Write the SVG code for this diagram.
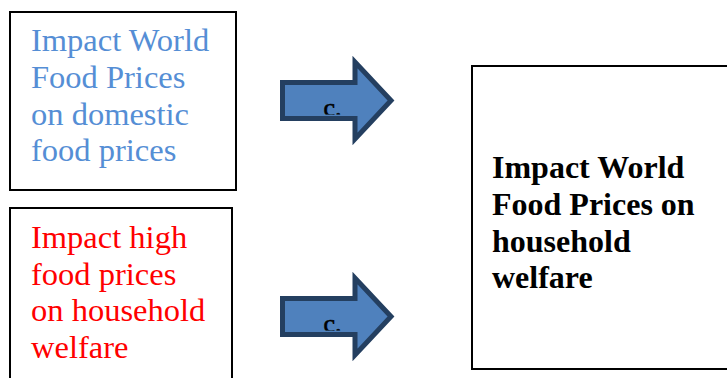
<svg xmlns="http://www.w3.org/2000/svg" width="727" height="378" viewBox="0 0 727 378">
<style>
.box{fill:#fff;stroke:#000;stroke-width:2}
.t{font-family:"Liberation Serif","Times New Roman",serif;font-size:32.5px}
.blue{fill:#558ed5}
.red{fill:#ff0000}
.bold{font-weight:bold;fill:#000;font-size:32px}
.arrow{fill:#4f81bd;stroke:#243f60;stroke-width:5;stroke-linejoin:miter}
.c{font-family:"Liberation Serif","Times New Roman",serif;font-size:26px;fill:#000;stroke:#000;stroke-width:0.6}
</style>
<defs>
<clipPath id="clip1"><rect x="284" y="85" width="80" height="29.5"/></clipPath>
<clipPath id="clip2"><rect x="284" y="301" width="80" height="29.5"/></clipPath>
</defs>
<rect width="727" height="378" fill="#fff"/>
<g id="node1">
<rect class="box" x="10" y="12" width="226" height="178"/>
<text class="t blue" x="31"><tspan x="31" y="51">Impact World</tspan><tspan x="31" y="88">Food Prices</tspan><tspan x="31" y="124.5">on domestic</tspan><tspan x="31" y="161">food prices</tspan></text>
</g>
<g id="node2">
<rect class="box" x="10" y="208" width="222" height="190"/>
<text class="t red" x="31"><tspan x="31" y="248">Impact high</tspan><tspan x="31" y="284.5">food prices</tspan><tspan x="31" y="321">on household</tspan><tspan x="31" y="358">welfare</tspan></text>
</g>
<g id="node3">
<rect class="box" x="472" y="66" width="264" height="303"/>
<text class="t bold" x="492"><tspan x="492" y="178">Impact World</tspan><tspan x="492" y="215">Food Prices on</tspan><tspan x="492" y="252">household</tspan><tspan x="492" y="288">welfare</tspan></text>
</g>
<g id="connectors">
<g id="arrow1">
<path class="arrow" d="M282.5,82.5 L355,82.5 L355,62 L391,100.5 L355,139 L355,118.5 L282.5,118.5 Z"/>
<text class="c" x="323.5" y="115.5" clip-path="url(#clip1)">c.</text>
</g>
<g id="arrow2">
<path class="arrow" d="M282.5,298.5 L355,298.5 L355,278 L391,316.5 L355,355 L355,334.5 L282.5,334.5 Z"/>
<text class="c" x="323.5" y="331.5" clip-path="url(#clip2)">c.</text>
</g>
</g>
</svg>
